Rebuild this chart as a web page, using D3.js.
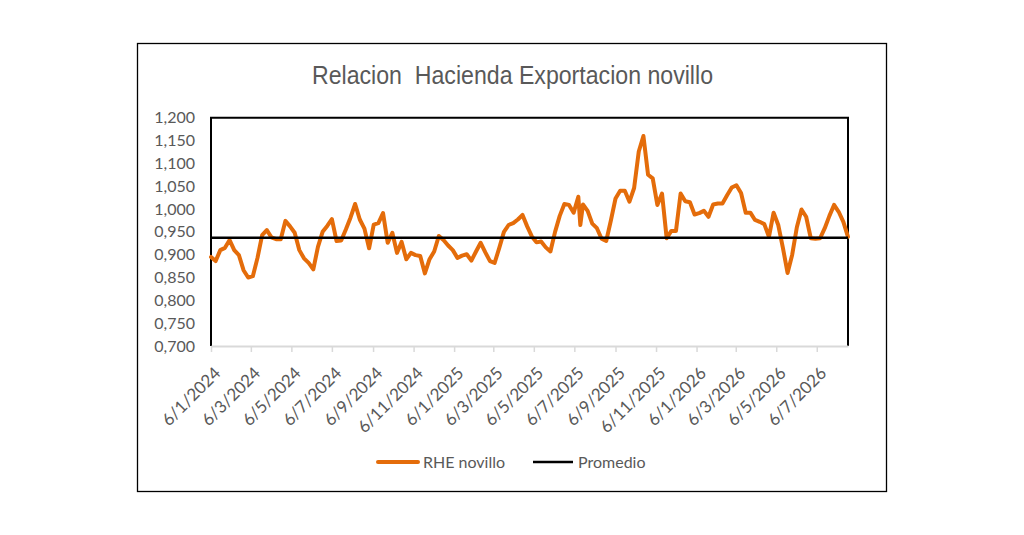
<!DOCTYPE html>
<html>
<head>
<meta charset="utf-8">
<script src="https://cdn.jsdelivr.net/npm/d3@7"></script>
<style>
  body { margin: 0; background: #fff; }
  text { font-family: Lato, "Open Sans", sans-serif; }
</style>
</head>
<body>
<div id="chart"></div>
<script>
// weekly series, first week on 6 Jan 2024
const firstWeek = "2024-01-06";
const rheNovillo = [
  0.895, 0.886, 0.910, 0.915, 0.932, 0.910, 0.899, 0.866, 0.850, 0.853,
  0.893, 0.943, 0.954, 0.938, 0.934, 0.934, 0.974, 0.962, 0.948, 0.910,
  0.892, 0.882, 0.868, 0.917, 0.950, 0.963, 0.978, 0.930, 0.931, 0.955,
  0.981, 1.011, 0.977, 0.957, 0.914, 0.966, 0.969, 0.991, 0.926, 0.948,
  0.904, 0.928, 0.890, 0.904, 0.899, 0.897, 0.859, 0.890, 0.907, 0.941,
  0.932, 0.920, 0.910, 0.893, 0.898, 0.901, 0.887, 0.907, 0.926, 0.905,
  0.886, 0.882, 0.915, 0.950, 0.965, 0.969, 0.977, 0.987, 0.962, 0.940,
  0.927, 0.929, 0.916, 0.907, 0.950, 0.985, 1.011, 1.009, 0.992, 1.027,
  1.010, 0.996, 0.968, 0.958, 0.935, 0.930, 0.975, 1.023, 1.040, 1.040,
  1.016, 1.046, 1.126, 1.160, 1.075, 1.067, 1.009, 1.034, 0.936, 0.952,
  0.952, 1.034, 1.017, 1.015, 0.988, 0.991, 0.996, 0.983, 1.010, 1.012,
  1.012, 1.030, 1.047, 1.052, 1.035, 0.992, 0.992, 0.976, 0.972, 0.967,
  0.939, 0.992, 0.965, 0.915, 0.860, 0.900, 0.960, 0.999, 0.983, 0.936,
  0.935, 0.936, 0.958, 0.985, 1.009, 0.994, 0.972, 0.939
];
// one reading off the weekly grid (sharp dip in July 2025)
const extraDates = ["2025-07-15"];
const extraValues = [0.965];

const promedio = 0.937;

const xTickLabels = [
  "6/1/2024", "6/3/2024", "6/5/2024", "6/7/2024", "6/9/2024", "6/11/2024",
  "6/1/2025", "6/3/2025", "6/5/2025", "6/7/2025", "6/9/2025", "6/11/2025",
  "6/1/2026", "6/3/2026", "6/5/2026", "6/7/2026"
];
const yTicks = [0.70, 0.75, 0.80, 0.85, 0.90, 0.95, 1.00, 1.05, 1.10, 1.15, 1.20];

const seriesNames = ["RHE novillo", "Promedio"];
const seriesColors = ["#E46C0A", "#000000"];

const config = {
  width: 1024,
  height: 535,
  margin: {top: 117.7, right: 176, bottom: 189, left: 211}
};

const parseIso = d3.timeParse("%Y-%m-%d");
const parseDmy = d3.timeParse("%d/%m/%Y");

const start = parseIso(firstWeek);
let data = rheNovillo.map((v, i) => ({date: d3.timeDay.offset(start, 7 * i), value: v}));
extraDates.forEach((d, i) => data.push({date: parseIso(d), value: extraValues[i]}));
data.sort((a, b) => a.date - b.date);

const tickDates = xTickLabels.map(parseDmy);

const svg = d3.select("#chart").append("svg")
  .attr("width", config.width)
  .attr("height", config.height);

const innerW = config.width - config.margin.left - config.margin.right;
const innerH = config.height - config.margin.top - config.margin.bottom;

// outer chart frame
svg.append("rect")
  .attr("x", 137.5).attr("y", 43.5)
  .attr("width", 749).attr("height", 448)
  .attr("fill", "none")
  .attr("stroke", "#000")
  .attr("stroke-width", 1.3);

svg.append("text")
  .attr("x", 312)
  .attr("y", 84)
  .attr("textLength", 401)
  .attr("lengthAdjust", "spacingAndGlyphs")
  .style("white-space", "pre")
  .style("font-family", "'Liberation Sans', Arial, sans-serif")
  .style("font-size", "25px")
  .style("fill", "#595959")
  .text("Relacion  Hacienda Exportacion novillo");

const chart = svg.append("g")
  .attr("transform", `translate(${config.margin.left},${config.margin.top})`);

const x = d3.scaleTime()
  .domain(d3.extent(data, d => d.date))
  .range([0, innerW]);

const y = d3.scaleLinear()
  .domain([0.7, 1.2])
  .range([innerH, 0]);

const fmt = v => d3.format(".3f")(v).replace(".", ",");

// y axis labels
const yAxis = d3.axisLeft(y)
  .tickValues(yTicks)
  .tickSize(0)
  .tickPadding(16)
  .tickFormat(fmt);

const yG = chart.append("g").call(yAxis);
yG.select(".domain").remove();
yG.selectAll("text")
  .style("font-size", "16px")
  .style("fill", "#595959");

// plot frame: black on top, left and right
chart.append("path")
  .attr("d", `M0,${innerH}V0H${innerW}V${innerH}`)
  .attr("fill", "none")
  .attr("stroke", "#000")
  .attr("stroke-width", 2);

// x axis (gray line with tick marks)
const xAxis = d3.axisBottom(x)
  .tickValues(tickDates)
  .tickSize(6)
  .tickSizeOuter(0)
  .tickFormat((d, i) => xTickLabels[i]);

const xG = chart.append("g")
  .attr("transform", `translate(0,${innerH})`)
  .call(xAxis);

xG.select(".domain")
  .attr("stroke", "#d9d9d9")
  .attr("stroke-width", 2);
xG.selectAll(".tick line")
  .attr("stroke", "#d9d9d9")
  .attr("stroke-width", 1.5);
xG.selectAll(".tick text")
  .attr("text-anchor", "end")
  .attr("dy", "0.35em")
  .attr("y", 0)
  .attr("transform", "translate(6,24) rotate(-45)")
  .style("font-size", "17px")
  .style("fill", "#595959");

const line = d3.line()
  .x(d => x(d.date))
  .y(d => y(d.value));

chart.append("path")
  .datum(data)
  .attr("fill", "none")
  .attr("stroke", seriesColors[0])
  .attr("stroke-width", 4)
  .attr("stroke-linejoin", "round")
  .attr("stroke-linecap", "round")
  .attr("d", line);

chart.append("line")
  .attr("x1", 0).attr("x2", innerW)
  .attr("y1", y(promedio)).attr("y2", y(promedio))
  .attr("stroke", seriesColors[1])
  .attr("stroke-width", 2.5);

// legend
const legendItems = [
  {name: seriesNames[0], color: seriesColors[0], x: 378, w: 4},
  {name: seriesNames[1], color: seriesColors[1], x: 533, w: 2.5}
];

const legend = svg.append("g").attr("class", "legend");
const li = legend.selectAll("g")
  .data(legendItems)
  .join("g")
  .attr("transform", d => `translate(${d.x},462)`);

li.append("line")
  .attr("x1", 0).attr("x2", 40)
  .attr("stroke", d => d.color)
  .attr("stroke-width", d => d.w)
  .attr("stroke-linecap", d => d.w > 3 ? "round" : "butt");

li.append("text")
  .attr("x", 45)
  .attr("dy", "0.35em")
  .style("font-size", "16px")
  .style("fill", "#595959")
  .text(d => d.name);
</script>
</body>
</html>
